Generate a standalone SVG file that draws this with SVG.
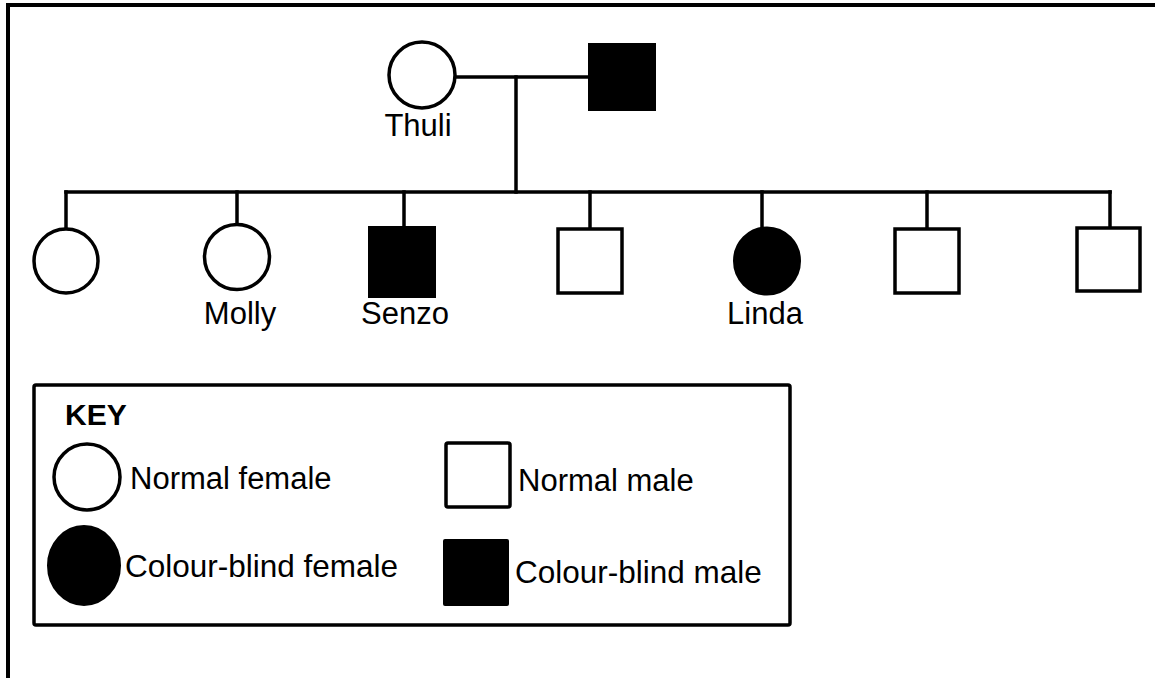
<svg xmlns="http://www.w3.org/2000/svg" width="1155" height="678" viewBox="0 0 1155 678">
<style>
.ln{fill:none;stroke:#000;stroke-width:3.5;stroke-linecap:square}
.open{fill:#fff;stroke:#000;stroke-width:3.5}
.fill{fill:#000;stroke:#000;stroke-width:2}
.lbl{font-family:"Liberation Sans",Arial,sans-serif;font-size:31px;fill:#000}
.key{font-family:"Liberation Sans",Arial,sans-serif;font-size:30px;font-weight:bold;fill:#000}
</style>
<rect x="0" y="0" width="1155" height="678" fill="#fff"/>
<path d="M8 678 V5 H1155" fill="none" stroke="#000" stroke-width="4"/>
<g id="connectors">
<path class="ln" d="M455 77 H588"/>
<path class="ln" d="M516 77 V192"/>
<path class="ln" d="M66 192 H1110"/>
<path class="ln" d="M66 192 V228"/>
<path class="ln" d="M237 192 V224"/>
<path class="ln" d="M404 192 V226"/>
<path class="ln" d="M590 192 V228"/>
<path class="ln" d="M762 192 V227"/>
<path class="ln" d="M927 192 V228"/>
<path class="ln" d="M1110 192 V227"/>
</g>
<g id="thuli">
<circle class="open" cx="422" cy="75" r="33"/>
<text class="lbl" x="418" y="136" text-anchor="middle">Thuli</text>
</g>
<g id="father">
<rect class="fill" x="589" y="44" width="66" height="66"/>
</g>
<g id="child1">
<circle class="open" cx="66" cy="261" r="32"/>
</g>
<g id="molly">
<circle class="open" cx="237" cy="257" r="32.5"/>
<text class="lbl" x="240" y="324" text-anchor="middle">Molly</text>
</g>
<g id="senzo">
<rect class="fill" x="369" y="227" width="66" height="70"/>
<text class="lbl" x="405" y="324" text-anchor="middle">Senzo</text>
</g>
<g id="child4">
<rect class="open" x="558" y="229" width="64" height="64"/>
</g>
<g id="linda">
<ellipse class="fill" cx="767" cy="261" rx="33" ry="33.5"/>
<text class="lbl" x="765" y="324" text-anchor="middle">Linda</text>
</g>
<g id="child6">
<rect class="open" x="895" y="229" width="64" height="64"/>
</g>
<g id="child7">
<rect class="open" x="1077" y="228" width="63" height="63"/>
</g>
<g id="key">
<rect x="34" y="385" width="756" height="240" rx="2" fill="none" stroke="#000" stroke-width="3.5"/>
<text class="key" x="65" y="425">KEY</text>
<circle class="open" cx="87" cy="477" r="33"/>
<text class="lbl" x="130" y="489">Normal female</text>
<rect class="open" x="446" y="443" width="64" height="64" rx="2"/>
<text class="lbl" x="518" y="491">Normal male</text>
<ellipse class="fill" cx="84" cy="565.5" rx="36" ry="39.5"/>
<text class="lbl" x="125" y="577" style="font-size:31.5px">Colour-blind female</text>
<rect x="443" y="539" width="66" height="67" rx="2" fill="#000"/>
<text class="lbl" x="515" y="583" style="font-size:31.5px">Colour-blind male</text>
</g>
</svg>
